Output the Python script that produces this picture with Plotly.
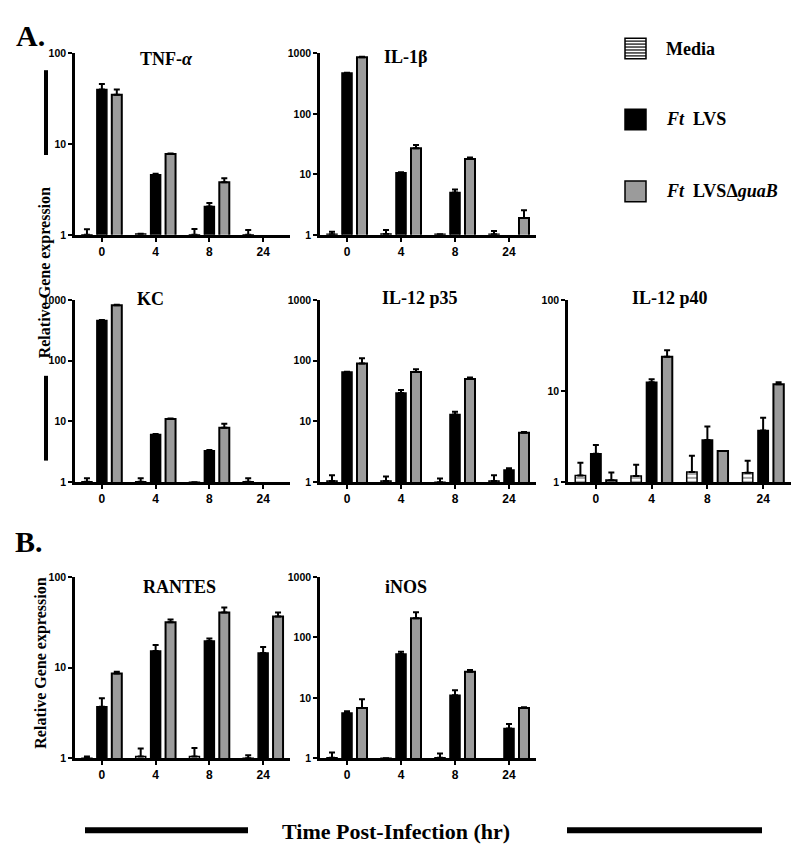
import plotly.graph_objects as go

W, H = 800, 849

# ---------------- data ----------------
time_labels = ["0", "4", "8", "24"]
series_names = ["Media", "Ft LVS", "Ft LVSΔguaB"]

tnf_media = [1.0, 1.02, 1.0, 1.0]
tnf_media_err = [1.15, 1.03, 1.16, 1.13]
tnf_lvs = [40, 4.6, 2.05, None]
tnf_lvs_err = [46, 4.7, 2.25, None]
tnf_guab = [35, 7.8, 3.8, None]
tnf_guab_err = [40, 7.9, 4.2, None]

il1b_media = [1.02, 1.03, 1.02, 1.02]
il1b_media_err = [1.12, 1.2, 1.02, 1.16]
il1b_lvs = [473, 10.6, 5.0, None]
il1b_lvs_err = [480, 10.8, 5.6, None]
il1b_guab = [865, 27, 18, 1.9]
il1b_guab_err = [880, 30.5, 19, 2.55]

kc_media = [1.02, 1.02, 1.0, 1.02]
kc_media_err = [1.16, 1.16, 1.0, 1.16]
kc_lvs = [460, 6.1, 3.3, None]
kc_lvs_err = [465, 6.2, 3.4, None]
kc_guab = [820, 11, 7.9, None]
kc_guab_err = [830, 11.2, 9.2, None]

p35_media = [1.05, 1.05, 1.0, 1.05]
p35_media_err = [1.3, 1.25, 1.15, 1.3]
p35_lvs = [65, 29.5, 13, 1.6]
p35_lvs_err = [66, 33, 14.4, 1.7]
p35_guab = [90, 65, 50, 6.5]
p35_guab_err = [110, 72, 53, 6.7]

p40_media = [1.19, 1.17, 1.3, 1.27]
p40_media_err = [1.64, 1.56, 1.95, 1.72]
p40_lvs = [2.05, 12.5, 2.9, 3.7]
p40_lvs_err = [2.56, 13.5, 4.1, 5.1]
p40_guab = [1.05, 23.8, 2.2, 11.9]
p40_guab_err = [1.28, 28, 2.2, 12.5]

rantes_media = [1.0, 1.05, 1.05, 1.0]
rantes_media_err = [1.05, 1.28, 1.3, 1.08]
rantes_lvs = [3.7, 15.3, 19.6, 14.5]
rantes_lvs_err = [4.6, 17.8, 21, 16.9]
rantes_guab = [8.6, 31.6, 40.5, 36.7]
rantes_guab_err = [9.0, 34, 46, 40.5]

inos_media = [1.02, 1.0, 1.02, None]
inos_media_err = [1.25, 1.0, 1.2, None]
inos_lvs = [5.6, 53, 11, 3.1]
inos_lvs_err = [6.0, 58, 13.3, 3.7]
inos_guab = [6.8, 208, 27, 6.8]
inos_guab_err = [9.5, 260, 29, 7.0]

panels = [
    dict(title="TNF-<i>α</i>", data=(tnf_media, tnf_media_err, tnf_lvs, tnf_lvs_err, tnf_guab, tnf_guab_err), col=0, row=0, top=2),
    dict(title="IL-1β", data=(il1b_media, il1b_media_err, il1b_lvs, il1b_lvs_err, il1b_guab, il1b_guab_err), col=1, row=0, top=3),
    dict(title="KC", data=(kc_media, kc_media_err, kc_lvs, kc_lvs_err, kc_guab, kc_guab_err), col=0, row=1, top=3),
    dict(title="IL-12 p35", data=(p35_media, p35_media_err, p35_lvs, p35_lvs_err, p35_guab, p35_guab_err), col=1, row=1, top=3),
    dict(title="IL-12 p40", data=(p40_media, p40_media_err, p40_lvs, p40_lvs_err, p40_guab, p40_guab_err), col=2, row=1, top=2),
    dict(title="RANTES", data=(rantes_media, rantes_media_err, rantes_lvs, rantes_lvs_err, rantes_guab, rantes_guab_err), col=0, row=2, top=2),
    dict(title="iNOS", data=(inos_media, inos_media_err, inos_lvs, inos_lvs_err, inos_guab, inos_guab_err), col=1, row=2, top=3),
]

# ---------------- layout geometry (pixels) ----------------
cols_px = [(67, 282), (312, 528), (560, 783)]
rows_px = [(40, 224), (290, 475), (571, 755)]
title_pos = {"TNF-<i>α</i>": (158, 46), "IL-1β": (398, 44), "KC": (142, 289),
             "IL-12 p35": (412, 288), "IL-12 p40": (662, 288),
             "RANTES": (171, 581), "iNOS": (398, 581)}

def px(x):
    return x / W

def py(y):
    return 1 - y / H

def up(vals, tops):
    out = []
    for v, t in zip(vals, tops):
        if v is None or t is None:
            out.append(None)
        else:
            out.append(max(t - v, 0))
    return out

GRAY = "#9b9b9b"
SERIF = "Liberation Serif"
SANS = "Liberation Sans"

fig = go.Figure()
layout_axes = {}
annotations = []
shapes = []

x_idx = list(range(len(time_labels)))

for i, p in enumerate(panels):
    n = i + 1
    xa = "x" if n == 1 else f"x{n}"
    ya = "y" if n == 1 else f"y{n}"
    m, me, l, le, g, ge = p["data"]
    err_style = dict(type="data", symmetric=False, color="black", thickness=2, width=3)
    fig.add_trace(go.Bar(
        x=x_idx, y=m, xaxis=xa, yaxis=ya, name=series_names[0], showlegend=False,
        marker=dict(color="white", line=dict(color="black", width=1.5),
                    pattern=dict(shape="-", fgcolor="black", bgcolor="white", size=4, solidity=0.35)),
        error_y=dict(array=up(m, me), arrayminus=[0] * 4, **err_style)))
    fig.add_trace(go.Bar(
        x=x_idx, y=l, xaxis=xa, yaxis=ya, name=series_names[1], showlegend=False,
        marker=dict(color="black", line=dict(color="black", width=1.5)),
        error_y=dict(array=up(l, le), arrayminus=[0] * 4, **err_style)))
    fig.add_trace(go.Bar(
        x=x_idx, y=g, xaxis=xa, yaxis=ya, name=series_names[2], showlegend=False,
        marker=dict(color=GRAY, line=dict(color="black", width=2)),
        error_y=dict(array=up(g, ge), arrayminus=[0] * 4, **err_style)))

    c0, c1 = cols_px[p["col"]]
    r0, r1 = rows_px[p["row"]]
    tickvals = [10 ** k for k in range(p["top"] + 1)]
    layout_axes["xaxis" if n == 1 else f"xaxis{n}"] = dict(
        domain=[px(c0), px(c1)], anchor=ya, range=[-0.5, 3.5],
        tickvals=x_idx, ticktext=time_labels, ticks="outside", ticklen=4, tickwidth=2,
        tickcolor="black", showline=True, linecolor="black", linewidth=2.5,
        showgrid=False, zeroline=False, fixedrange=True,
        tickfont=dict(family=SANS, size=12, color="black", weight="bold"))
    layout_axes["yaxis" if n == 1 else f"yaxis{n}"] = dict(
        domain=[py(r1), py(r0)], anchor=xa, type="log", range=[0, p["top"]],
        tickvals=tickvals, ticktext=[str(v) for v in tickvals],
        ticks="outside", ticklen=4, tickwidth=2, tickcolor="black",
        showline=True, linecolor="black", linewidth=2.5,
        showgrid=False, zeroline=False, fixedrange=True,
        tickfont=dict(family=SANS, size=10.5, color="black", weight="bold"))

    tx, ty = title_pos[p["title"]]
    annotations.append(dict(text=p["title"], x=px(tx), y=py(ty), xref="paper", yref="paper",
                            showarrow=False, xanchor="center", yanchor="middle",
                            font=dict(family=SERIF, size=18, color="black", weight="bold")))

# panel letters
for txt, x0, y0 in [("A.", 22, 22), ("B.", 21, 535)]:
    annotations.append(dict(text=txt, x=px(x0), y=py(y0), xref="paper", yref="paper",
                            showarrow=False, xanchor="center", yanchor="middle",
                            font=dict(family=SERIF, size=30, color="black", weight="bold")))

# y-axis titles
for x0, y0 in [(37, 263), (33, 659)]:
    annotations.append(dict(text="Relative Gene expression", x=px(x0), y=py(y0), xref="paper",
                            yref="paper", showarrow=False, textangle=-90,
                            xanchor="center", yanchor="middle",
                            font=dict(family=SERIF, size=16, color="black", weight="bold")))
# vertical bars around top y title
for y0, y1 in [(57, 143), (367, 453)]:
    shapes.append(dict(type="line", xref="paper", yref="paper", x0=px(38), x1=px(38),
                       y0=py(y0), y1=py(y1), line=dict(color="black", width=4)))

# bottom x title with lines
annotations.append(dict(text="Time Post-Infection (hr)", x=px(388), y=py(829), xref="paper", yref="paper",
                        showarrow=False, xanchor="center", yanchor="middle",
                        font=dict(family=SERIF, size=22, color="black", weight="bold")))
for x0, x1 in [(77, 240), (559, 754)]:
    shapes.append(dict(type="line", xref="paper", yref="paper", x0=px(x0), x1=px(x1),
                       y0=py(828), y1=py(828), line=dict(color="black", width=6)))

# legend
leg_x0, leg_size = 617, 21
leg_items = [("Media", 35), ("<i>Ft</i>  LVS", 107), ("<i>Ft</i>  LVSΔ<i>guaB</i>", 180)]
for k, (txt, yc) in enumerate(leg_items):
    y0, y1 = yc - leg_size / 2, yc + leg_size / 2
    fill = ["white", "black", GRAY][k]
    shapes.append(dict(type="rect", xref="paper", yref="paper", x0=px(leg_x0), x1=px(leg_x0 + leg_size),
                       y0=py(y1), y1=py(y0), fillcolor=fill, line=dict(color="black", width=1.5)))
    if k == 0:
        for j in range(1, 7):
            yy = y0 + j * leg_size / 7
            shapes.append(dict(type="line", xref="paper", yref="paper", x0=px(leg_x0), x1=px(leg_x0 + leg_size),
                               y0=py(yy), y1=py(yy), line=dict(color="black", width=1.2)))
    annotations.append(dict(text=txt, x=px(656), y=py(yc), xref="paper", yref="paper",
                            showarrow=False, xanchor="left", yanchor="middle",
                            font=dict(family=SERIF, size=18, color="black", weight="bold")))

fig.update_layout(
    width=W, height=H, margin=dict(l=0, r=0, t=0, b=0),
    paper_bgcolor="white", plot_bgcolor="white",
    barmode="group", bargap=0.167, bargroupgap=0.33,
    showlegend=False, annotations=annotations, shapes=shapes,
    **layout_axes)

fig.write_html("out.html")
